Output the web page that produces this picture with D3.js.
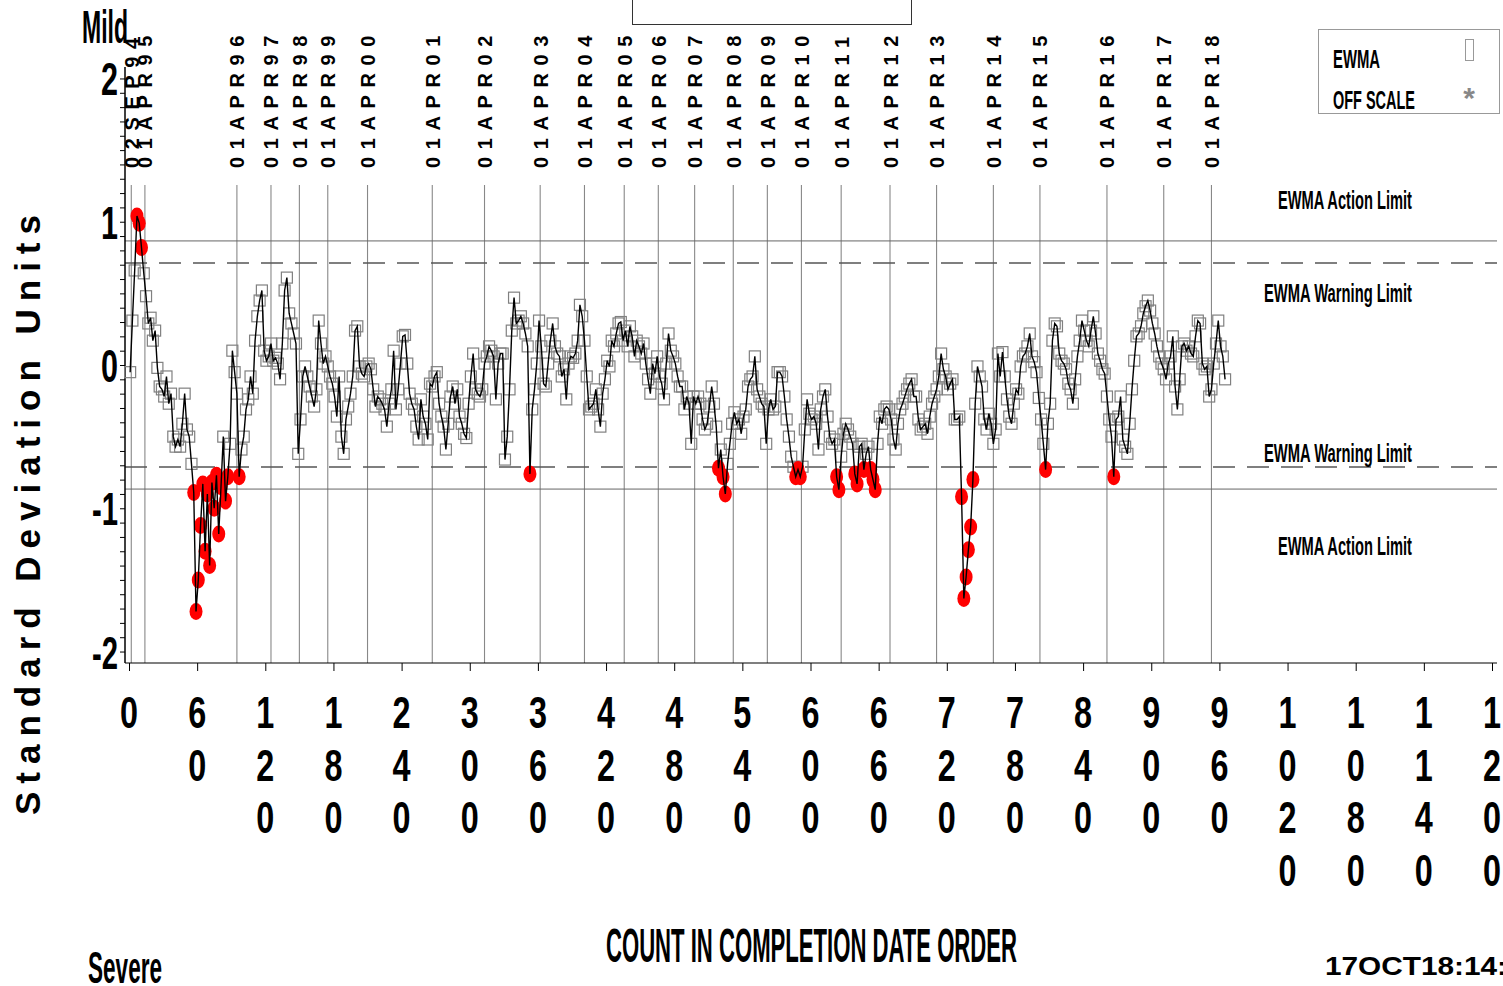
<!DOCTYPE html>
<html>
<head>
<meta charset="utf-8">
<script src="https://cdn.jsdelivr.net/npm/d3@7"></script>
<style>
  body { margin: 0; background: #fff; }
  svg { display: block; }
  text { font-family: "Liberation Sans", Arial, sans-serif; font-weight: bold; fill: #000; }
</style>
</head>
<body>
<svg id="chart" width="1503" height="986"></svg>
<script>
"use strict";

// ===== Data =====
// EWMA values (standard deviation units), read every 2nd count starting at count 1
const ewmaFirstCount = 1;
const ewmaCountStep = 2;
const ewma = [
  -0.05, 0.31, 0.66, 1.04, 0.99, 0.82, 0.64, 0.48, 0.29, 0.33,
  0.17, 0.24, -0.02, -0.15, -0.17, -0.22, -0.08, -0.27, -0.2, -0.5,
  -0.57, -0.52, -0.57, -0.41, -0.2, -0.45, -0.5, -0.69, -0.89, -1.72,
  -1.5, -1.12, -0.83, -1.3, -0.9, -1.4, -0.82, -1.0, -0.77, -1.18,
  -0.85, -0.5, -0.95, -0.78, -0.55, 0.1, -0.05, -0.2, -0.78, -0.59,
  -0.5, -0.31, -0.24, -0.08, -0.2, 0.17, 0.34, 0.45, 0.52, 0.1,
  0.03, 0.06, 0.15, 0.03, 0.05, 0.01, -0.1, 0.15, 0.52, 0.61,
  0.36, 0.29, 0.22, 0.15, -0.62, -0.38, -0.08, -0.01, -0.08, -0.15,
  -0.22, -0.29, -0.17, 0.31, 0.15, 0.01, 0.06, -0.01, -0.08, -0.13,
  -0.22, -0.36, -0.08, -0.5, -0.62, -0.38, -0.29, -0.2, -0.08, 0.24,
  0.27, -0.01, -0.06, -0.08, -0.01, 0.01, -0.03, -0.17, -0.29, -0.22,
  -0.24, -0.27, -0.31, -0.43, -0.27, -0.17, 0.1, -0.31, -0.17, 0.01,
  0.2, 0.21, 0.01, -0.2, -0.27, -0.31, -0.43, -0.52, -0.24, -0.36,
  -0.41, -0.52, -0.13, -0.15, -0.08, -0.05, -0.27, -0.36, -0.43, -0.59,
  -0.41, -0.22, -0.15, -0.27, -0.17, -0.36, -0.41, -0.48, -0.51, -0.27,
  -0.08, 0.08, -0.17, -0.2, -0.22, -0.17, 0.01, 0.06, 0.13, 0.1,
  0.06, -0.24, 0.01, 0.08, 0.08, -0.66, -0.5, -0.17, 0.24, 0.47,
  0.29, 0.31, 0.34, 0.29, 0.22, 0.13, -0.76, -0.31, -0.17, 0.01,
  0.31, 0.13, -0.13, -0.15, 0.01, 0.17, 0.29, 0.13, 0.08, 0.06,
  -0.08, -0.03, -0.24, 0.01, 0.06, 0.05, 0.08, 0.17, 0.42, 0.34,
  0.17, -0.08, -0.31, -0.29, -0.27, -0.17, -0.31, -0.43, -0.2, -0.1,
  0.03, -0.01, 0.17, 0.13, 0.22, 0.29, 0.3, 0.17, 0.24, 0.13,
  0.27, 0.2, 0.06, 0.17, 0.13, 0.08, 0.15, 0.01, -0.1, -0.2,
  0.01, -0.06, 0.06, -0.08, -0.13, -0.24, 0.01, 0.22, 0.1, 0.06,
  0.01, -0.08, -0.15,
  -0.15, -0.31, -0.22, -0.27, -0.55, -0.22, -0.27, -0.22, -0.27, -0.38,
  -0.45, -0.41, -0.29, -0.15, -0.27, -0.43, -0.72, -0.59, -0.78, -0.9,
  -0.69, -0.55, -0.41, -0.33, -0.41, -0.38, -0.48, -0.36, -0.31, -0.15,
  -0.1, -0.08, 0.06, -0.17, -0.22, -0.27, -0.29, -0.55, -0.31, -0.24,
  -0.31, -0.29, -0.05, -0.05, -0.08, -0.22, -0.38, -0.5, -0.64, -0.71,
  -0.78, -0.73, -0.78, -0.71, -0.45, -0.24, -0.34, -0.38, -0.36, -0.41,
  -0.59, -0.31, -0.22, -0.17, -0.36, -0.5, -0.55, -0.52, -0.78, -0.87,
  -0.64, -0.48, -0.41, -0.45, -0.5, -0.55, -0.76, -0.83, -0.57, -0.55,
  -0.73, -0.62, -0.57, -0.73, -0.8, -0.87, -0.55, -0.36, -0.41, -0.31,
  -0.29, -0.31, -0.38, -0.52, -0.59, -0.41, -0.31, -0.27, -0.22, -0.17,
  -0.13, -0.1, -0.22, -0.22, -0.38, -0.45, -0.43, -0.41, -0.48, -0.36,
  -0.27, -0.22, -0.17, -0.08, 0.08, -0.03, -0.08, -0.17, -0.13, -0.1,
  -0.38, -0.38, -0.36, -0.92, -1.63, -1.48, -1.29, -1.13, -0.8, -0.27,
  -0.01, -0.08, -0.15, -0.38, -0.45, -0.34, -0.41, -0.55, -0.45, 0.08,
  -0.08, 0.09, -0.08, -0.24, -0.36, -0.41, -0.27, -0.17, -0.2, -0.01,
  0.06, 0.08, 0.13, 0.22, 0.06, 0.02, -0.05, -0.23, -0.38, -0.55,
  -0.73, -0.41, -0.27, 0.17, 0.29, 0.27, 0.08, 0.03, 0.01, -0.03,
  -0.13, -0.17, -0.27, -0.1, 0.06, 0.17, 0.31, 0.24, 0.17, 0.13,
  0.24, 0.34, 0.22, 0.08, 0.03, -0.03, -0.06, -0.22, -0.38, -0.5,
  -0.78, -0.38, -0.36, -0.22, -0.52, -0.57, -0.62, -0.41, -0.17, 0.03,
  0.2, 0.22, 0.27, 0.36, 0.41, 0.45, 0.38, 0.29, 0.22, 0.13,
  0.06, 0.01, -0.03, -0.1, 0.01, 0.06, 0.2, -0.15, -0.31, -0.1,
  0.13, 0.15, 0.1, 0.13, 0.08, 0.06, 0.2, 0.31, 0.29, 0.01,
  -0.03, -0.01, -0.22, -0.17, 0.01, 0.15, 0.31, 0.13, 0.06, -0.1
];

// Date reference lines (count at which each date starts)
const dateLabels = ["02SEP94", "01APR95", "01APR96", "01APR97", "01APR98", "01APR99", "01APR00",
  "01APR01", "01APR02", "01APR03", "01APR04", "01APR05", "01APR06", "01APR07", "01APR08",
  "01APR09", "01APR10", "01APR11", "01APR12", "01APR13", "01APR14", "01APR15", "01APR16",
  "01APR17", "01APR18"];
const dateCounts = [2, 14, 95, 125, 150, 175, 210, 267, 313, 362, 401, 436, 466, 498, 532,
  562, 592, 627, 670, 711, 761, 802, 861, 911, 953];

const xTickValues = [0, 60, 120, 180, 240, 300, 360, 420, 480, 540, 600, 660, 720, 780, 840,
  900, 960, 1020, 1080, 1140, 1200];
const yTickValues = [-2, -1, 0, 1, 2];
const yTickLabels = ["-2", "-1", "0", "1", "2"];

const actionLimit = 0.866;
const warningLimit = 0.712;

// ===== Setup =====
const svg = d3.select("#chart");
const x = d3.scaleLinear().domain([0, 1200]).range([129, 1492]);
const y = d3.scaleLinear().domain([-2.08, 2.08]).range([663, 67]);
const plotLeft = 125, plotRight = 1497;

// condensed bold text, squeezed to a measured width
function squeezed(parent, str, px, w, size, anchor) {
  return parent.append("text")
    .attr("x", px[0]).attr("y", px[1])
    .attr("font-size", size)
    .attr("text-anchor", anchor || "start")
    .attr("textLength", w)
    .attr("lengthAdjust", "spacingAndGlyphs")
    .text(str);
}

// ===== Title box (mostly off the top edge) =====
svg.append("rect")
  .attr("x", 632.5).attr("y", -10).attr("width", 279).attr("height", 34.5)
  .attr("fill", "none").attr("stroke", "#333");

// ===== Date reference lines + labels =====
const dates = dateCounts.map((c, i) => ({ c, label: dateLabels[i] }));
svg.append("g").selectAll("line")
  .data(dates).join("line")
  .attr("x1", d => x(d.c)).attr("x2", d => x(d.c))
  .attr("y1", 185).attr("y2", 663)
  .attr("stroke", "#888").attr("stroke-width", 1.1);

svg.append("g").selectAll("text")
  .data(dates).join("text")
  .attr("transform", d => `translate(${x(d.c) + 7.5},168) rotate(-90)`)
  .attr("font-size", 20)
  .attr("letter-spacing", 7.6)
  .text(d => d.label);

// ===== Limit lines =====
[actionLimit, -actionLimit].forEach(v => {
  svg.append("line")
    .attr("x1", plotLeft).attr("x2", plotRight)
    .attr("y1", y(v)).attr("y2", y(v))
    .attr("stroke", "#666").attr("stroke-width", 1);
});
[warningLimit, -warningLimit].forEach(v => {
  svg.append("line")
    .attr("x1", plotLeft).attr("x2", plotRight)
    .attr("y1", y(v)).attr("y2", y(v))
    .attr("stroke", "#555").attr("stroke-width", 1.6)
    .attr("stroke-dasharray", "22,12");
});

squeezed(svg, "EWMA Action Limit", [1412, 209], 134, 26, "end");
squeezed(svg, "EWMA Warning Limit", [1412, 302], 148, 26, "end");
squeezed(svg, "EWMA Warning Limit", [1412, 462], 148, 26, "end");
squeezed(svg, "EWMA Action Limit", [1412, 555], 134, 26, "end");

// ===== Axes =====
// y axis: minor ticks every 0.1
const yAxis = svg.append("g")
  .attr("transform", `translate(${plotLeft},0)`)
  .call(d3.axisLeft(y)
    .tickValues(d3.range(-20, 21).map(i => i / 10))
    .tickSize(5)
    .tickFormat(""));
yAxis.select(".domain").attr("d", `M0,${y.range()[1]}V${y.range()[0]}`).attr("stroke-width", 1.5);
yAxis.selectAll(".tick line").attr("stroke", "#000");

yTickValues.forEach((v, i) => {
  const lab = yTickLabels[i];
  squeezed(svg, lab, [118, y(v) + 17], lab.length > 1 ? 26 : 17, 46, "end");
});

// x axis
const xAxis = svg.append("g")
  .attr("transform", "translate(0,663)")
  .call(d3.axisBottom(x).tickValues(xTickValues).tickSize(8).tickFormat(""));
xAxis.select(".domain").attr("d", `M${plotLeft},0H${plotRight}`).attr("stroke-width", 1.2);

// tick labels with digits stacked vertically
const xLab = svg.append("g").selectAll("g")
  .data(xTickValues).join("g")
  .attr("transform", d => `translate(${x(d)},0)`);
xLab.each(function(v) {
  const digits = String(v).split("");
  digits.forEach((ch, k) => {
    squeezed(d3.select(this), ch, [0, 728 + k * 52.5], 18, 44, "middle");
  });
});

// ===== EWMA series =====
const points = ewma.map((v, i) => ({ c: ewmaFirstCount + i * ewmaCountStep, v }));
const isOut = d => Math.abs(d.v) > warningLimit;

svg.append("g").selectAll("rect")
  .data(points.filter(d => !isOut(d))).join("rect")
  .attr("x", d => x(d.c) - 5.5).attr("y", d => y(d.v) - 5.5)
  .attr("width", 11).attr("height", 11)
  .attr("fill", "none").attr("stroke", "#808080").attr("stroke-width", 1.2);

svg.append("g").selectAll("ellipse")
  .data(points.filter(isOut)).join("ellipse")
  .attr("cx", d => x(d.c)).attr("cy", d => y(d.v))
  .attr("rx", 6.5).attr("ry", 8.5)
  .attr("fill", "#f00");

svg.append("path")
  .datum(points)
  .attr("fill", "none").attr("stroke", "#000").attr("stroke-width", 1.4)
  .attr("d", d3.line().x(d => x(d.c)).y(d => y(d.v)));

// ===== Legend =====
const leg = svg.append("g");
leg.append("rect")
  .attr("x", 1318.5).attr("y", 29.5).attr("width", 181).attr("height", 84)
  .attr("fill", "#fff").attr("stroke", "#999");
squeezed(leg, "EWMA", [1333, 68], 47, 26);
squeezed(leg, "OFF SCALE", [1333, 109], 82, 26);
leg.append("rect")
  .attr("x", 1465.5).attr("y", 39.5).attr("width", 8).attr("height", 21)
  .attr("fill", "none").attr("stroke", "#999");
leg.append("text")
  .attr("x", 1469).attr("y", 108).attr("text-anchor", "middle")
  .attr("font-size", 30).attr("font-weight", "normal")
  .style("fill", "#888")
  .text("*");

// ===== Titles =====
squeezed(svg, "Mild", [82, 43], 46, 46);
squeezed(svg, "Severe", [88, 983], 74, 44);
squeezed(svg, "COUNT IN COMPLETION DATE ORDER", [606, 962], 411, 48);
svg.append("text")
  .attr("transform", "translate(40,815) rotate(-90)")
  .attr("font-size", 35)
  .attr("textLength", 600)
  .attr("lengthAdjust", "spacing")
  .text("Standard Deviation Units");
svg.append("text")
  .attr("x", 1325).attr("y", 975)
  .attr("font-size", 25)
  .attr("textLength", 215)
  .attr("lengthAdjust", "spacingAndGlyphs")
  .text("17OCT18:14:13");
</script>
</body>
</html>
